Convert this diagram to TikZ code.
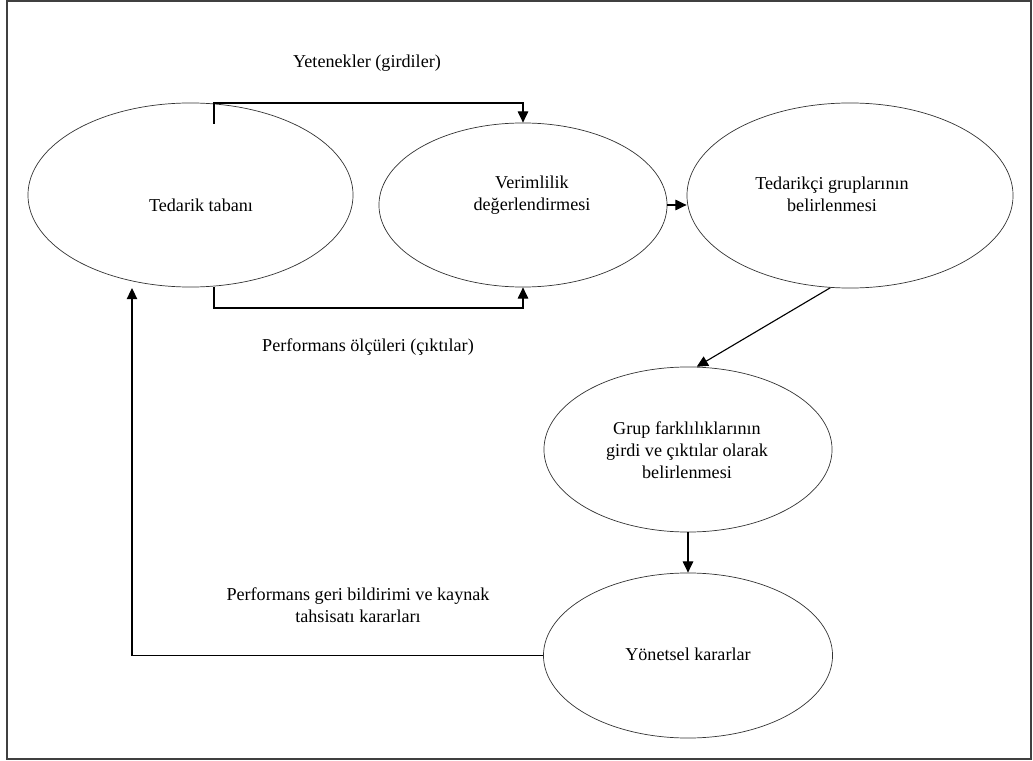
\documentclass[tikz,border=0pt]{standalone}
\usepackage{fontspec}
\setmainfont{Liberation Serif}
\usetikzlibrary{shapes.geometric,arrows.meta}
\tikzset{
  oval/.style={draw=black!80,line width=0.5pt,ellipse,inner sep=0pt},
  txt/.style={align=center,font=\fontsize{12.9}{15.5}\selectfont},
  arr/.style={line width=0.8pt,-{Triangle[length=8pt,width=7.5pt]}}
}
\begin{document}
\begin{tikzpicture}[x=0.025cm,y=-0.025cm]
  \useasboundingbox (0,0) rectangle (1033,761);
  \draw[black!75,line width=1pt] (7,1) rectangle (1031,759);
  % ellipses
  \node[oval,minimum width=8.125cm,minimum height=4.6cm] (tb) at (190.5,195) {};
  \node[oval,minimum width=7.2cm,minimum height=4.1cm] (ver) at (523,205) {};
  \node[oval,minimum width=8.15cm,minimum height=4.625cm] (tdg) at (850,195.5) {};
  \node[oval,minimum width=7.2cm,minimum height=4.125cm] (grp) at (688,449.5) {};
  \node[oval,minimum width=7.225cm,minimum height=4.125cm] (yon) at (688,655.5) {};
  % texts
  \node[txt] (tbl) at (201,205) {Tedarik tabanı};
  \node[txt] (verl) at (532,195) {Verimlilik\\değerlendirmesi};
  \node[txt] (tdgl) at (832,194) {Tedarikçi gruplarının\\belirlenmesi};
  \node[txt] (grpl) at (687,450) {Grup farklılıklarının\\girdi ve çıktılar olarak\\belirlenmesi};
  \node[txt] (yonl) at (688,654) {Yönetsel kararlar};
  \node[txt] (yet) at (367,63) {Yetenekler (girdiler)};
  \node[txt] (perf) at (368,347) {Performans ölçüleri (çıktılar)};
  \node[txt] (geri) at (358,605) {Performans geri bildirimi ve kaynak\\tahsisatı kararları};
  % connectors
  \coordinate (c1) at (214,124);
  \coordinate (c2) at (214,103);
  \coordinate (c3) at (214,308);
  \coordinate (c4) at (132,288);
  \draw[arr] (c1) -- (c2) -| (ver.north);
  \draw[arr] (c3 |- tb.south) -- (c3) -| (ver.south);
  \draw[arr] (ver.east) -- (ver.east -| tdg.west);
  \draw[arr] (tdg.-102) -- (grp.84);
  \draw[arr] (grp.south) -- (yon.north);
  \draw[arr] (yon.west) -| (c4);
\end{tikzpicture}
\end{document}
